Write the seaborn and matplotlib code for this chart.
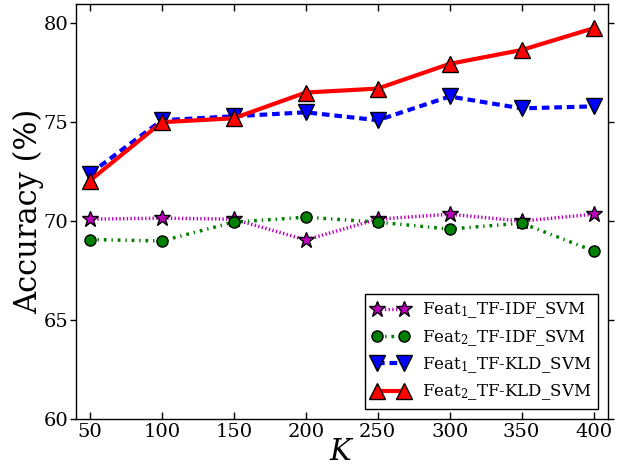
import matplotlib
matplotlib.use("Agg")
import matplotlib.pyplot as plt
import seaborn as sns
import pandas as pd

K = [50, 100, 150, 200, 250, 300, 350, 400]
feat1_tfidf = [70.1, 70.15, 70.1, 69.05, 70.1, 70.35, 70.0, 70.35]
feat2_tfidf = [69.07, 69.0, 69.95, 70.2, 69.95, 69.6, 69.9, 68.5]
feat1_tfkld = [72.4, 75.1, 75.3, 75.5, 75.1, 76.3, 75.7, 75.8]
feat2_tfkld = [72.05, 75.0, 75.2, 76.5, 76.7, 77.95, 78.65, 79.75]
labels = ["Feat$_1$_TF-IDF_SVM", "Feat$_2$_TF-IDF_SVM",
          "Feat$_1$_TF-KLD_SVM", "Feat$_2$_TF-KLD_SVM"]

sns.set_style("ticks")
plt.rcParams["font.family"] = ["DejaVu Serif"]
plt.rcParams["mathtext.fontset"] = "dejavuserif"
plt.rcParams["xtick.direction"] = "in"
plt.rcParams["ytick.direction"] = "out"
plt.rcParams["xtick.top"] = True
plt.rcParams["ytick.right"] = True
plt.rcParams["lines.scale_dashes"] = False
for k in ["text.color", "axes.labelcolor", "xtick.color", "ytick.color", "axes.edgecolor"]:
    plt.rcParams[k] = "black"

fig = plt.figure(figsize=(6.22, 4.67), dpi=100)
ax = fig.add_axes([0.1214, 0.1028, 0.856, 0.8897])

styles = [
    dict(color="#bf00bf", marker="*", linestyle=(0, (1, 1.65)), markersize=12, linewidth=2.5),
    dict(color="#008000", marker="o", linestyle=(0, (2, 3.5, 1, 3.5)), markersize=8, linewidth=2.5),
    dict(color="#0000ff", marker="v", linestyle=(0, (5.5, 3.5)), markersize=11, linewidth=3),
    dict(color="#ff0000", marker="^", linestyle="-", markersize=11, linewidth=3),
]
series = [feat1_tfidf, feat2_tfidf, feat1_tfkld, feat2_tfkld]
for vals, lab, st in zip(series, labels, styles):
    df = pd.DataFrame({"K": K, "acc": vals})
    sns.lineplot(data=df, x="K", y="acc", ax=ax, label=lab,
                 markeredgecolor="black", markeredgewidth=1, **st)

ax.set_xlim(40, 410)
ax.set_ylim(60, 81)
ax.set_xticks(K)
ax.set_yticks([60, 65, 70, 75, 80])
ax.tick_params(axis="both", labelsize=14, color="black", width=1)
ax.tick_params(axis="x", length=5, pad=3)
ax.tick_params(axis="y", length=4, pad=1)
for s in ax.spines.values():
    s.set_color("black")
    s.set_linewidth(1)
ax.set_xlabel("$K$", fontsize=21, labelpad=-2)
ax.set_ylabel("Accuracy (%)", fontsize=22, labelpad=0)

leg = ax.legend(loc="lower right", fontsize=12, numpoints=2, fancybox=False,
                framealpha=1, edgecolor="black", borderaxespad=0.6,
                handlelength=2.2, labelspacing=0.45)
leg.get_frame().set_linewidth(1)

fig.savefig("out.png", dpi=100)
